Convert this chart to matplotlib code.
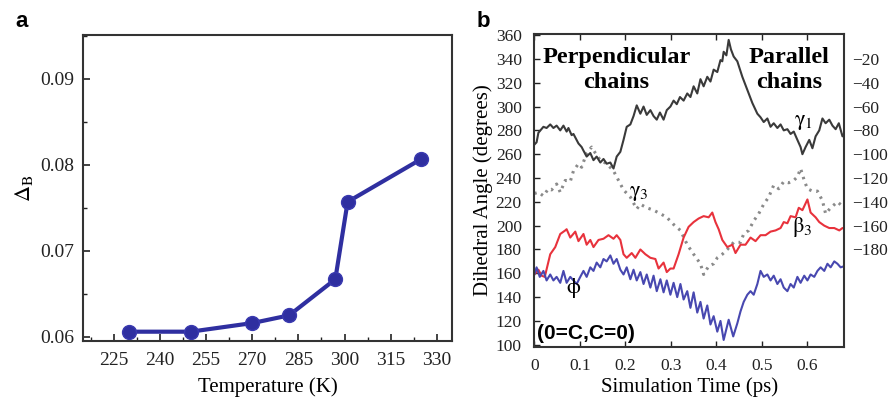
import numpy as np
import matplotlib
matplotlib.use('Agg')
import matplotlib.pyplot as plt
from matplotlib.ticker import MultipleLocator

plt.rcParams['font.family'] = ['Liberation Serif', 'DejaVu Serif']
plt.rcParams['mathtext.fontset'] = 'stix'

# ── Panel a data ──────────────────────────────────────────────────────────────
temp_K  = [230, 250, 270, 282, 297, 301, 325]
delta_B = [0.0606, 0.0606, 0.0616, 0.0625, 0.0667, 0.0757, 0.0807]
temp_ticks = [225, 240, 255, 270, 285, 300, 315, 330]
dB_ticks   = [0.06, 0.07, 0.08, 0.09]

# ── Panel b data (time in ps, angle in degrees) ──────────────────────────────
gamma1_t = [0.000, 0.005, 0.009, 0.020, 0.027, 0.035, 0.042, 0.049, 0.057, 0.064,
            0.071, 0.075, 0.082, 0.086, 0.097, 0.104, 0.108, 0.115, 0.123, 0.130,
            0.137, 0.145, 0.152, 0.159, 0.167, 0.174, 0.181, 0.189, 0.196, 0.203,
            0.211, 0.218, 0.225, 0.233, 0.240, 0.247, 0.255, 0.262, 0.269, 0.276,
            0.284, 0.291, 0.299, 0.306, 0.313, 0.320, 0.328, 0.336, 0.343, 0.350,
            0.358, 0.365, 0.372, 0.380, 0.387, 0.394, 0.402, 0.409, 0.413, 0.416,
            0.422, 0.427, 0.432, 0.438, 0.446, 0.457, 0.468, 0.479, 0.490, 0.497,
            0.504, 0.512, 0.519, 0.526, 0.534, 0.541, 0.548, 0.556, 0.563, 0.570,
            0.578, 0.585, 0.589, 0.596, 0.604, 0.611, 0.618, 0.626, 0.633, 0.640,
            0.648, 0.655, 0.662, 0.669, 0.677, 0.683]
gamma1   = [268, 270, 278, 283, 282, 285, 282, 284, 280, 284,
            279, 282, 276, 277, 269, 266, 263, 258, 261, 255,
            258, 253, 256, 252, 253, 248, 258, 262, 272, 283,
            285, 292, 301, 294, 300, 293, 297, 292, 289, 295,
            289, 297, 300, 305, 302, 308, 305, 311, 308, 317,
            311, 323, 317, 325, 321, 331, 329, 339, 338, 346,
            343, 356, 348, 342, 338, 325, 314, 303, 294, 291,
            287, 290, 283, 286, 282, 285, 280, 281, 277, 279,
            272, 266, 260, 266, 272, 265, 275, 280, 290, 286,
            289, 284, 281, 286, 275, 279]

gamma3_t = [0.000, 0.009, 0.020, 0.031, 0.038, 0.049, 0.057, 0.068, 0.079, 0.086,
            0.097, 0.104, 0.115, 0.126, 0.134, 0.145, 0.159, 0.174, 0.185, 0.196,
            0.211, 0.225, 0.233, 0.247, 0.262, 0.277, 0.291, 0.306, 0.321, 0.336,
            0.350, 0.365, 0.372, 0.383, 0.394, 0.402, 0.413, 0.424, 0.438, 0.453,
            0.460, 0.471, 0.482, 0.493, 0.504, 0.515, 0.526, 0.537, 0.548, 0.559,
            0.570, 0.578, 0.585, 0.593, 0.600, 0.611, 0.622, 0.633, 0.640, 0.651,
            0.666, 0.681]
gamma3   = [227, 228, 225, 231, 230, 235, 228, 238, 237, 246,
            252, 249, 261, 266, 261, 255, 252, 246, 238, 230,
            224, 214, 218, 215, 213, 210, 207, 201, 196, 184,
            176, 168, 159, 166, 168, 173, 176, 180, 186, 186,
            193, 196, 204, 210, 218, 224, 234, 231, 237, 236,
            238, 241, 248, 238, 231, 229, 229, 221, 210, 215,
            220, 215]

beta3_t = [0.000, 0.009, 0.016, 0.023, 0.035, 0.046, 0.057, 0.068, 0.071, 0.079,
           0.090, 0.097, 0.108, 0.115, 0.123, 0.130, 0.141, 0.152, 0.163, 0.174,
           0.181, 0.189, 0.196, 0.203, 0.214, 0.222, 0.233, 0.244, 0.255, 0.266,
           0.273, 0.284, 0.291, 0.299, 0.306, 0.317, 0.328, 0.339, 0.350, 0.361,
           0.372, 0.383, 0.391, 0.398, 0.405, 0.413, 0.424, 0.435, 0.442, 0.453,
           0.464, 0.475, 0.486, 0.497, 0.508, 0.519, 0.530, 0.541, 0.548, 0.556,
           0.563, 0.574, 0.581, 0.589, 0.600, 0.607, 0.618, 0.626, 0.637, 0.648,
           0.659, 0.670, 0.677, 0.683]
beta3   = [159, 163, 158, 157, 176, 182, 193, 196, 197, 190,
           195, 187, 193, 184, 188, 182, 188, 189, 192, 189,
           192, 188, 176, 173, 177, 173, 180, 176, 173, 172,
           164, 169, 161, 164, 164, 176, 190, 199, 203, 206,
           208, 207, 211, 203, 197, 188, 182, 184, 177, 184,
           184, 190, 187, 192, 192, 195, 196, 198, 203, 202,
           208, 207, 215, 213, 222, 211, 207, 203, 200, 198,
           198, 196, 198, 197]

phi_t = [0.000, 0.005, 0.012, 0.020, 0.027, 0.035, 0.042, 0.049, 0.057, 0.064,
         0.071, 0.079, 0.086, 0.093, 0.101, 0.108, 0.115, 0.123, 0.130, 0.137,
         0.145, 0.152, 0.159, 0.167, 0.174, 0.181, 0.189, 0.196, 0.203, 0.211,
         0.218, 0.225, 0.233, 0.240, 0.247, 0.255, 0.262, 0.269, 0.277, 0.284,
         0.291, 0.299, 0.306, 0.314, 0.321, 0.328, 0.336, 0.343, 0.350, 0.358,
         0.365, 0.372, 0.380, 0.387, 0.394, 0.402, 0.409, 0.416, 0.427, 0.437,
         0.446, 0.453, 0.460, 0.468, 0.475, 0.482, 0.490, 0.497, 0.504, 0.512,
         0.519, 0.526, 0.534, 0.541, 0.548, 0.556, 0.563, 0.570, 0.578, 0.585,
         0.593, 0.600, 0.607, 0.615, 0.622, 0.629, 0.637, 0.644, 0.651, 0.659,
         0.666, 0.673, 0.681]
phi   = [159, 165, 157, 162, 154, 159, 154, 157, 152, 162,
         152, 157, 154, 151, 157, 162, 157, 165, 162, 169,
         165, 172, 170, 175, 168, 172, 163, 159, 165, 155,
         163, 154, 161, 151, 159, 148, 158, 145, 155, 144,
         154, 142, 152, 140, 151, 138, 145, 131, 144, 127,
         136, 122, 133, 117, 124, 111, 120, 104, 121, 107,
         118, 128, 136, 142, 145, 142, 151, 162, 157, 159,
         154, 158, 151, 155, 148, 145, 151, 148, 157, 152,
         158, 154, 159, 157, 162, 165, 162, 168, 165, 170,
         168, 165, 166]

time_ticks  = [0, 0.1, 0.2, 0.3, 0.4, 0.5, 0.6]
time_labels = ['0', '0.1', '0.2', '0.3', '0.4', '0.5', '0.6']
left_ticks  = list(range(100, 361, 20))
right_ticks = list(range(-180, -19, 20))

# ── Figure ────────────────────────────────────────────────────────────────────
fig = plt.figure(figsize=(8.92, 3.99), dpi=100, facecolor='white')
axa = fig.add_axes([0.093, 0.145, 0.414, 0.767])
axb = fig.add_axes([0.599, 0.130, 0.347, 0.785])

# Panel a
axa.plot(temp_K, delta_B, '-o', color='#2f2fa0', lw=3, ms=10, mec='#3a3ab0', mfc='#2f2fa0')
axa.set_xlim(215, 335)
axa.set_ylim(0.0595, 0.0951)
axa.set_xticks(temp_ticks)
axa.set_yticks(dB_ticks)
axa.set_yticklabels([f'{v:.2f}' for v in dB_ticks])
axa.xaxis.set_minor_locator(MultipleLocator(7.5))
axa.yaxis.set_minor_locator(MultipleLocator(0.005))
axa.tick_params(which='both', direction='in', labelsize=14, colors='#222')
axa.tick_params(axis='x', pad=8)
axa.tick_params(axis='y', pad=6)
axa.tick_params(which='major', length=5, width=1.2)
axa.tick_params(which='minor', length=3, width=1.0)
axa.set_xlabel('Temperature (K)', fontsize=15, labelpad=6)
axa.set_ylabel(r'$\Delta_{\rm B}$', fontsize=16, labelpad=4)
for s in axa.spines.values():
    s.set_linewidth(1.5); s.set_color('#333')

# Panel b
axb.plot(gamma3_t, gamma3, color='#8a8a8a', lw=2.2, ls=(0, (0.8, 1.6)))
axb.plot(gamma1_t, gamma1, color='#3a3a3a', lw=1.5)
axb.plot(beta3_t, beta3, color='#e8323c', lw=1.5)
axb.plot(phi_t, phi, color='#4848b0', lw=1.5)
axb.set_xlim(0, 0.68)
axb.set_ylim(98, 361)
axb.set_xticks(time_ticks)
axb.set_xticklabels(time_labels)
axb.set_yticks(left_ticks)
axb.tick_params(direction='in', length=4, width=1.0, labelsize=12.5,
                top=True, right=True, colors='#222')
axb.tick_params(axis='y', pad=9)
axb.tick_params(axis='x', pad=8)
axb.set_xlabel('Simulation Time (ps)', fontsize=15, labelpad=2)
axb.set_ylabel('Dihedral Angle (degrees)', fontsize=15, labelpad=2)
for s in axb.spines.values():
    s.set_linewidth(1.5); s.set_color('#333')

axr = axb.twinx()
axr.set_ylim(98 - 360, 361 - 360)
axr.set_yticks(right_ticks)
axr.tick_params(direction='in', length=0, labelsize=12.5, colors='#222', pad=6)
for s in axr.spines.values():
    s.set_visible(False)

axb.text(0.265, 0.885, 'Perpendicular\nchains', transform=axb.transAxes, ha='center',
         va='center', fontsize=17.5, fontweight='bold', linespacing=1.3)
axb.text(0.822, 0.885, 'Parallel\nchains', transform=axb.transAxes, ha='center',
         va='center', fontsize=17.5, fontweight='bold', linespacing=1.3)
axb.text(0.008, 0.045, '(0=C,C=0)', transform=axb.transAxes, ha='left', va='center',
         fontsize=15, fontweight='bold', family='Liberation Sans')
axb.text(0.591, 287, r'$\mathrm{\gamma_1}$', fontsize=16, ha='center', va='center')
axb.text(0.229, 227, r'$\mathrm{\gamma_3}$', fontsize=16, ha='center', va='center')
axb.text(0.589, 199, r'$\mathrm{\beta_3}$', fontsize=16, ha='center', va='center')
axb.text(0.087, 148, r'$\mathrm{\phi}$', fontsize=16, ha='center', va='center')

fig.text(0.017, 0.945, 'a', fontsize=16, fontweight='bold', family='Liberation Sans', va='center')
fig.text(0.534, 0.945, 'b', fontsize=16, fontweight='bold', family='Liberation Sans', va='center')

fig.savefig('out.png', dpi=100, facecolor='white')
